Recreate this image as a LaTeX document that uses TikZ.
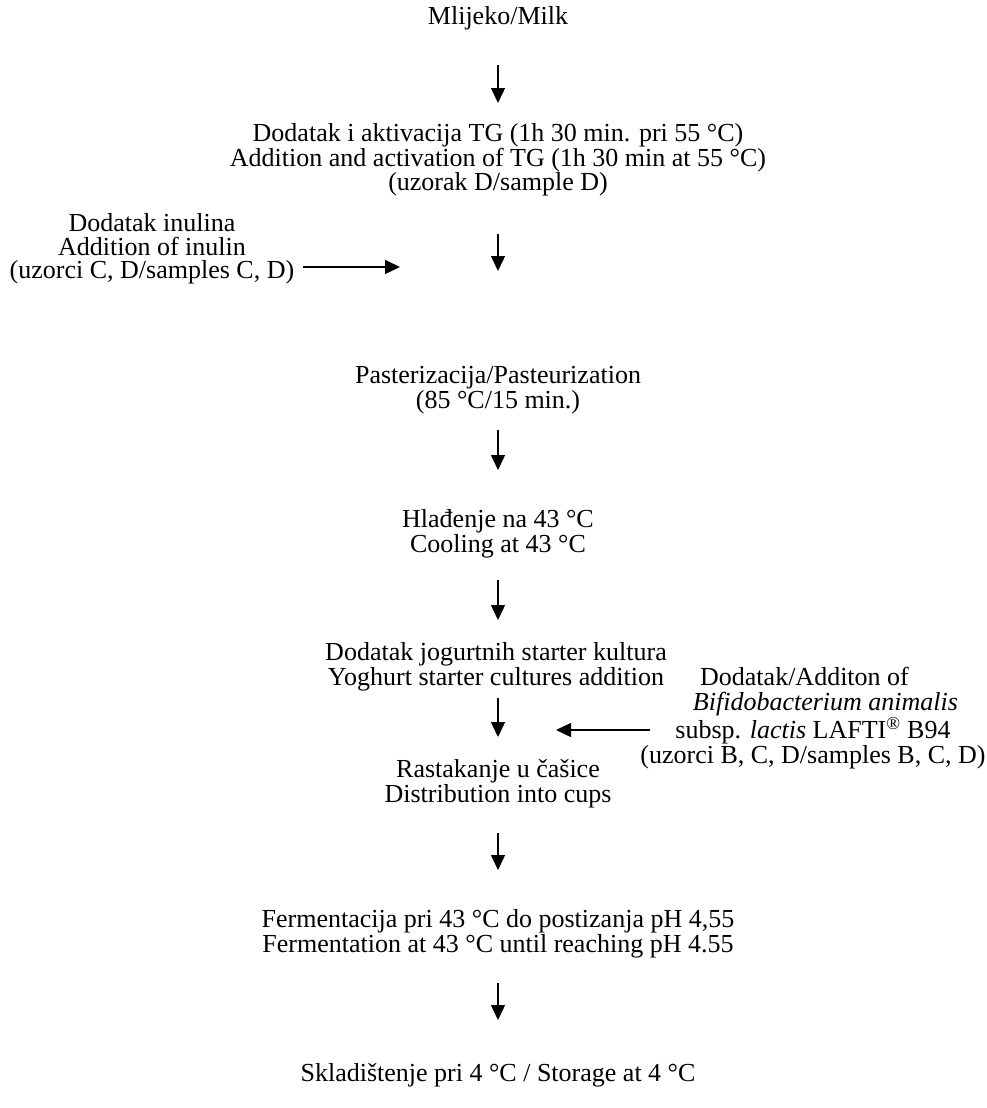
\documentclass[tikz,border=0pt]{standalone}
\usepackage{fontspec}
\setmainfont{Liberation Serif}
\usetikzlibrary{arrows.meta}
\begin{document}
\begin{tikzpicture}[x=1pt,y=-1pt,
  txt/.style={inner sep=0pt, align=center, font=\fontsize{26}{23.5}\selectfont},
  flow/.style={line width=1.4pt, -{Triangle[length=15pt,width=14pt]}}]
\useasboundingbox (0,0) rectangle (987,1108);
\node[txt] (milk) at (498,18) {Mlijeko/Milk};
\node[txt] (tg) at (498,160) {Dodatak i aktivacija TG (1h 30 min. pri 55 °C)\\Addition and activation of TG (1h 30 min at 55 °C)\\(uzorak D/sample D)};
\node[txt] (inul) at (152,249) {Dodatak inulina\\Addition of inulin\\(uzorci C, D/samples C, D)};
\node[txt] (past) at (498,390) {Pasterizacija/Pasteurization\\(85 °C/15 min.)};
\node[txt] (cool) at (498,534) {Hlađenje na 43 °C\\Cooling at 43 °C};
\node[txt] (start) at (496,667) {Dodatak jogurtnih starter kultura\\Yoghurt starter cultures addition};
\node[txt, font=\fontsize{26}{25.5}\selectfont] (bifi) at (813,718) {Dodatak/Additon of\hspace*{17pt}\\\hspace*{25pt}\textit{Bifidobacterium animalis}\\subsp. \textit{lactis} LAFTI\textsuperscript{®} B94\hspace*{12pt}\\(uzorci B, C, D/samples B, C, D)};
\node[txt] (dist) at (498,784) {Rastakanje u čašice\\Distribution into cups};
\node[txt] (ferm) at (498,934) {Fermentacija pri 43 °C do postizanja pH 4,55\\Fermentation at 43 °C until reaching pH 4.55};
\node[txt] (stor) at (498,1075) {Skladištenje pri 4 °C / Storage at 4 °C};
\coordinate (a1s) at (498,65); \coordinate (a1e) at (498,103);
\coordinate (a2s) at (498,234); \coordinate (a2e) at (498,271);
\coordinate (a3s) at (498,430); \coordinate (a3e) at (498,470);
\coordinate (a4s) at (498,580); \coordinate (a4e) at (498,620);
\coordinate (a5s) at (498,698); \coordinate (a5e) at (498,737);
\coordinate (a6s) at (498,833); \coordinate (a6e) at (498,870);
\coordinate (a7s) at (498,983); \coordinate (a7e) at (498,1020);
\coordinate (ins) at (303,267); \coordinate (ine) at (400,267);
\coordinate (bis) at (650,730); \coordinate (bie) at (556,730);
\draw[flow] (a1s) -- (a1e);
\draw[flow] (a2s) -- (a2e);
\draw[flow] (a3s) -- (a3e);
\draw[flow] (a4s) -- (a4e);
\draw[flow] (a5s) -- (a5e);
\draw[flow] (a6s) -- (a6e);
\draw[flow] (a7s) -- (a7e);
\draw[flow] (ins) -- (ine);
\draw[flow] (bis) -- (bie);
\end{tikzpicture}
\end{document}
